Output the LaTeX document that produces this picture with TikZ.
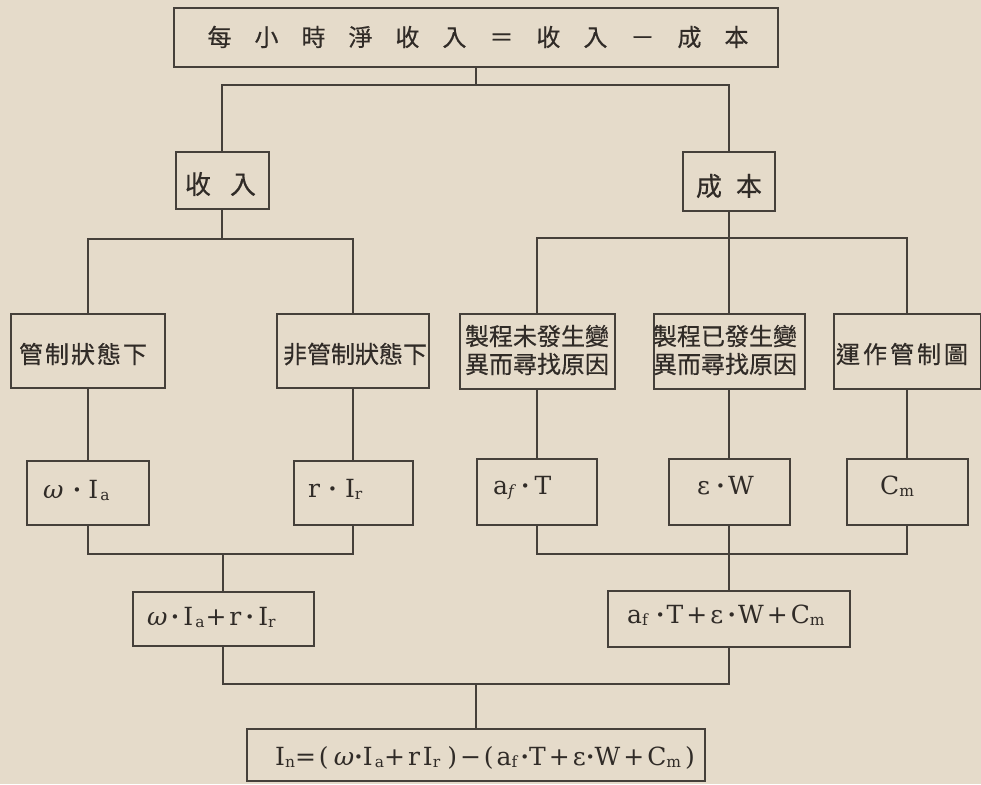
\documentclass[tikz,border=0pt]{standalone}
\usepackage{fontspec}
\setmainfont{DejaVu Serif}
\newfontfamily\cjk[FakeBold=0.5]{Noto Sans CJK TC}
\newfontfamily\mtf[LetterSpace=12]{DejaVu Serif}
\definecolor{bg}{HTML}{E5DBCA}
\definecolor{ink}{HTML}{45403A}
\definecolor{txt}{HTML}{302B27}
\newcommand\cc[2]{\makebox[#1]{#2}}
\newcommand\sbs[1]{\raisebox{-0.1em}{\scalebox{0.62}{#1}}}
\newcommand\dt{\raisebox{0.12em}{\scalebox{0.6}{\textbullet}}}
\tikzset{
  bx/.style={draw=ink, line width=2pt, inner sep=0pt, outer sep=0pt},
  ln/.style={draw=ink, line width=1.2pt},
  zh/.style={text=txt, inner sep=0pt, align=center, font=\cjk\fontsize{24}{28}\selectfont},
  mt/.style={text=txt, inner sep=0pt, anchor=base west, font=\mtf\fontsize{25}{28}\selectfont},
}
\begin{document}
\begin{tikzpicture}[x=1pt,y=-1pt]
\fill[bg] (0,0) rectangle (981,784);
\useasboundingbox (0,0) rectangle (981,784);

% boxes
\node[bx, minimum width=604pt, minimum height=59pt] (top)  at (476,37.5) {};
\node[bx, minimum width=93pt,  minimum height=57pt] (inc)  at (222,180.5) {};
\node[bx, minimum width=92pt,  minimum height=59pt] (cost) at (729,181.5) {};
\node[bx, minimum width=154pt, minimum height=74pt] (c1) at (88,351) {};
\node[bx, minimum width=152pt, minimum height=74pt] (c2) at (353,351) {};
\node[bx, minimum width=155pt, minimum height=75pt] (c3) at (537,351.5) {};
\node[bx, minimum width=151pt, minimum height=75pt] (c4) at (729,351.5) {};
\node[bx, minimum width=147pt, minimum height=75pt] (c5) at (907,351.5) {};
\node[bx, minimum width=122pt, minimum height=64pt] (d1) at (88,493) {};
\node[bx, minimum width=119pt, minimum height=64pt] (d2) at (353,493) {};
\node[bx, minimum width=120pt, minimum height=66pt] (d3) at (537,492) {};
\node[bx, minimum width=121pt, minimum height=66pt] (d4) at (729,492) {};
\node[bx, minimum width=121pt, minimum height=66pt] (d5) at (907,492) {};
\node[bx, minimum width=181pt, minimum height=54pt] (s1) at (223,619) {};
\node[bx, minimum width=242pt, minimum height=56pt] (s2) at (729,619) {};
\node[bx, minimum width=458pt, minimum height=52pt] (fin) at (476,755) {};

% texts
\node[zh] (top-t) at (478,37) {\cc{47pt}{每}\cc{47pt}{小}\cc{47pt}{時}\cc{47pt}{淨}\cc{47pt}{收}\cc{47pt}{入}\cc{47pt}{＝}\cc{47pt}{收}\cc{47pt}{入}\cc{47pt}{－}\cc{47pt}{成}\cc{47pt}{本}};
\node[zh, font=\cjk\fontsize{26}{28}\selectfont] (inc-t) at (220.5,184) {\cc{45pt}{收}\cc{45pt}{入}};
\node[zh, font=\cjk\fontsize{26}{28}\selectfont] (cost-t) at (729,186) {\cc{40pt}{成}\cc{40pt}{本}};
\node[zh] (c1-t) at (83,354) {\cc{26pt}{管}\cc{26pt}{制}\cc{26pt}{狀}\cc{26pt}{態}\cc{26pt}{下}};
\node[zh] (c2-t) at (355,354) {非管制狀態下};
\node[zh] (c3-t) at (537,350) {製程未發生變\\異而尋找原因};
\node[zh] (c4-t) at (725,350) {製程已發生變\\異而尋找原因};
\node[zh] (c5-t) at (902,354) {\cc{27pt}{運}\cc{27pt}{作}\cc{27pt}{管}\cc{27pt}{制}\cc{27pt}{圖}};

\node[mt] (d1-t) at (43,498) {{\itshape ω}\hspace{9pt}\dt\hspace{7pt}I\hspace{2pt}\sbs{a}};
\node[mt] (d2-t) at (308,497) {r\hspace{8pt}\dt\hspace{8pt}I\sbs{r}};
\node[mt] (d3-t) at (493,494) {a\sbs{\itshape f}\hspace{7pt}\dt\hspace{5pt}T};
\node[mt] (d4-t) at (697,494) {ε\hspace{6pt}\dt\hspace{3pt}W};
\node[mt] (d5-t) at (880,494) {C\sbs{m}};
\node[mt] (s1-t) at (147,625) {{\itshape ω}\hspace{3pt}\dt\hspace{4pt}I\hspace{2pt}\sbs{a}\hspace{1pt}+r\hspace{4pt}\dt\hspace{4pt}I\sbs{r}};
\node[mt] (s2-t) at (627,623) {a\sbs{f}\hspace{8pt}\dt\hspace{2pt}T+ε\hspace{4pt}\dt\hspace{2pt}W+C\sbs{m}};
\node[mt] (fin-t) at (275,765) {I\sbs{n}=(\hspace{5pt}{\itshape ω}\dt I\hspace{2pt}\sbs{a}+rI\sbs{r}\hspace{7pt})−(a\sbs{f}\hspace{3pt}\dt T+ε\dt W+C\sbs{m}\hspace{4pt})};

% connectors
\coordinate (jA) at (476,85);
\draw[ln] (top.south) -- (jA);
\draw[ln] (inc.north) |- (jA) -| (cost.north);

\coordinate (jB) at (222,239);
\draw[ln] (inc.south) -- (jB);
\draw[ln] (c1.north) |- (jB) -| (c2.north);

\coordinate (jC) at (729,238);
\draw[ln] (cost.south) -- (jC);
\draw[ln] (c3.north) |- (jC) -| (c5.north);
\draw[ln] (jC) -- (c4.north);

\draw[ln] (c1.south) -- (d1.north);
\draw[ln] (c2.south) -- (d2.north);
\draw[ln] (c3.south) -- (d3.north);
\draw[ln] (c4.south) -- (d4.north);
\draw[ln] (c5.south) -- (d5.north);

\coordinate (jD) at (223,554);
\draw[ln] (d1.south) |- (jD) -| (d2.south);
\draw[ln] (jD) -- (s1.north);

\coordinate (jE) at (729,554);
\draw[ln] (d3.south) |- (jE) -| (d5.south);
\draw[ln] (d4.south) -- (s2.north);

\coordinate (jF) at (476,684);
\draw[ln] (s1.south) |- (jF) -| (s2.south);
\draw[ln] (jF) -- (fin.north);
\end{tikzpicture}
\end{document}
